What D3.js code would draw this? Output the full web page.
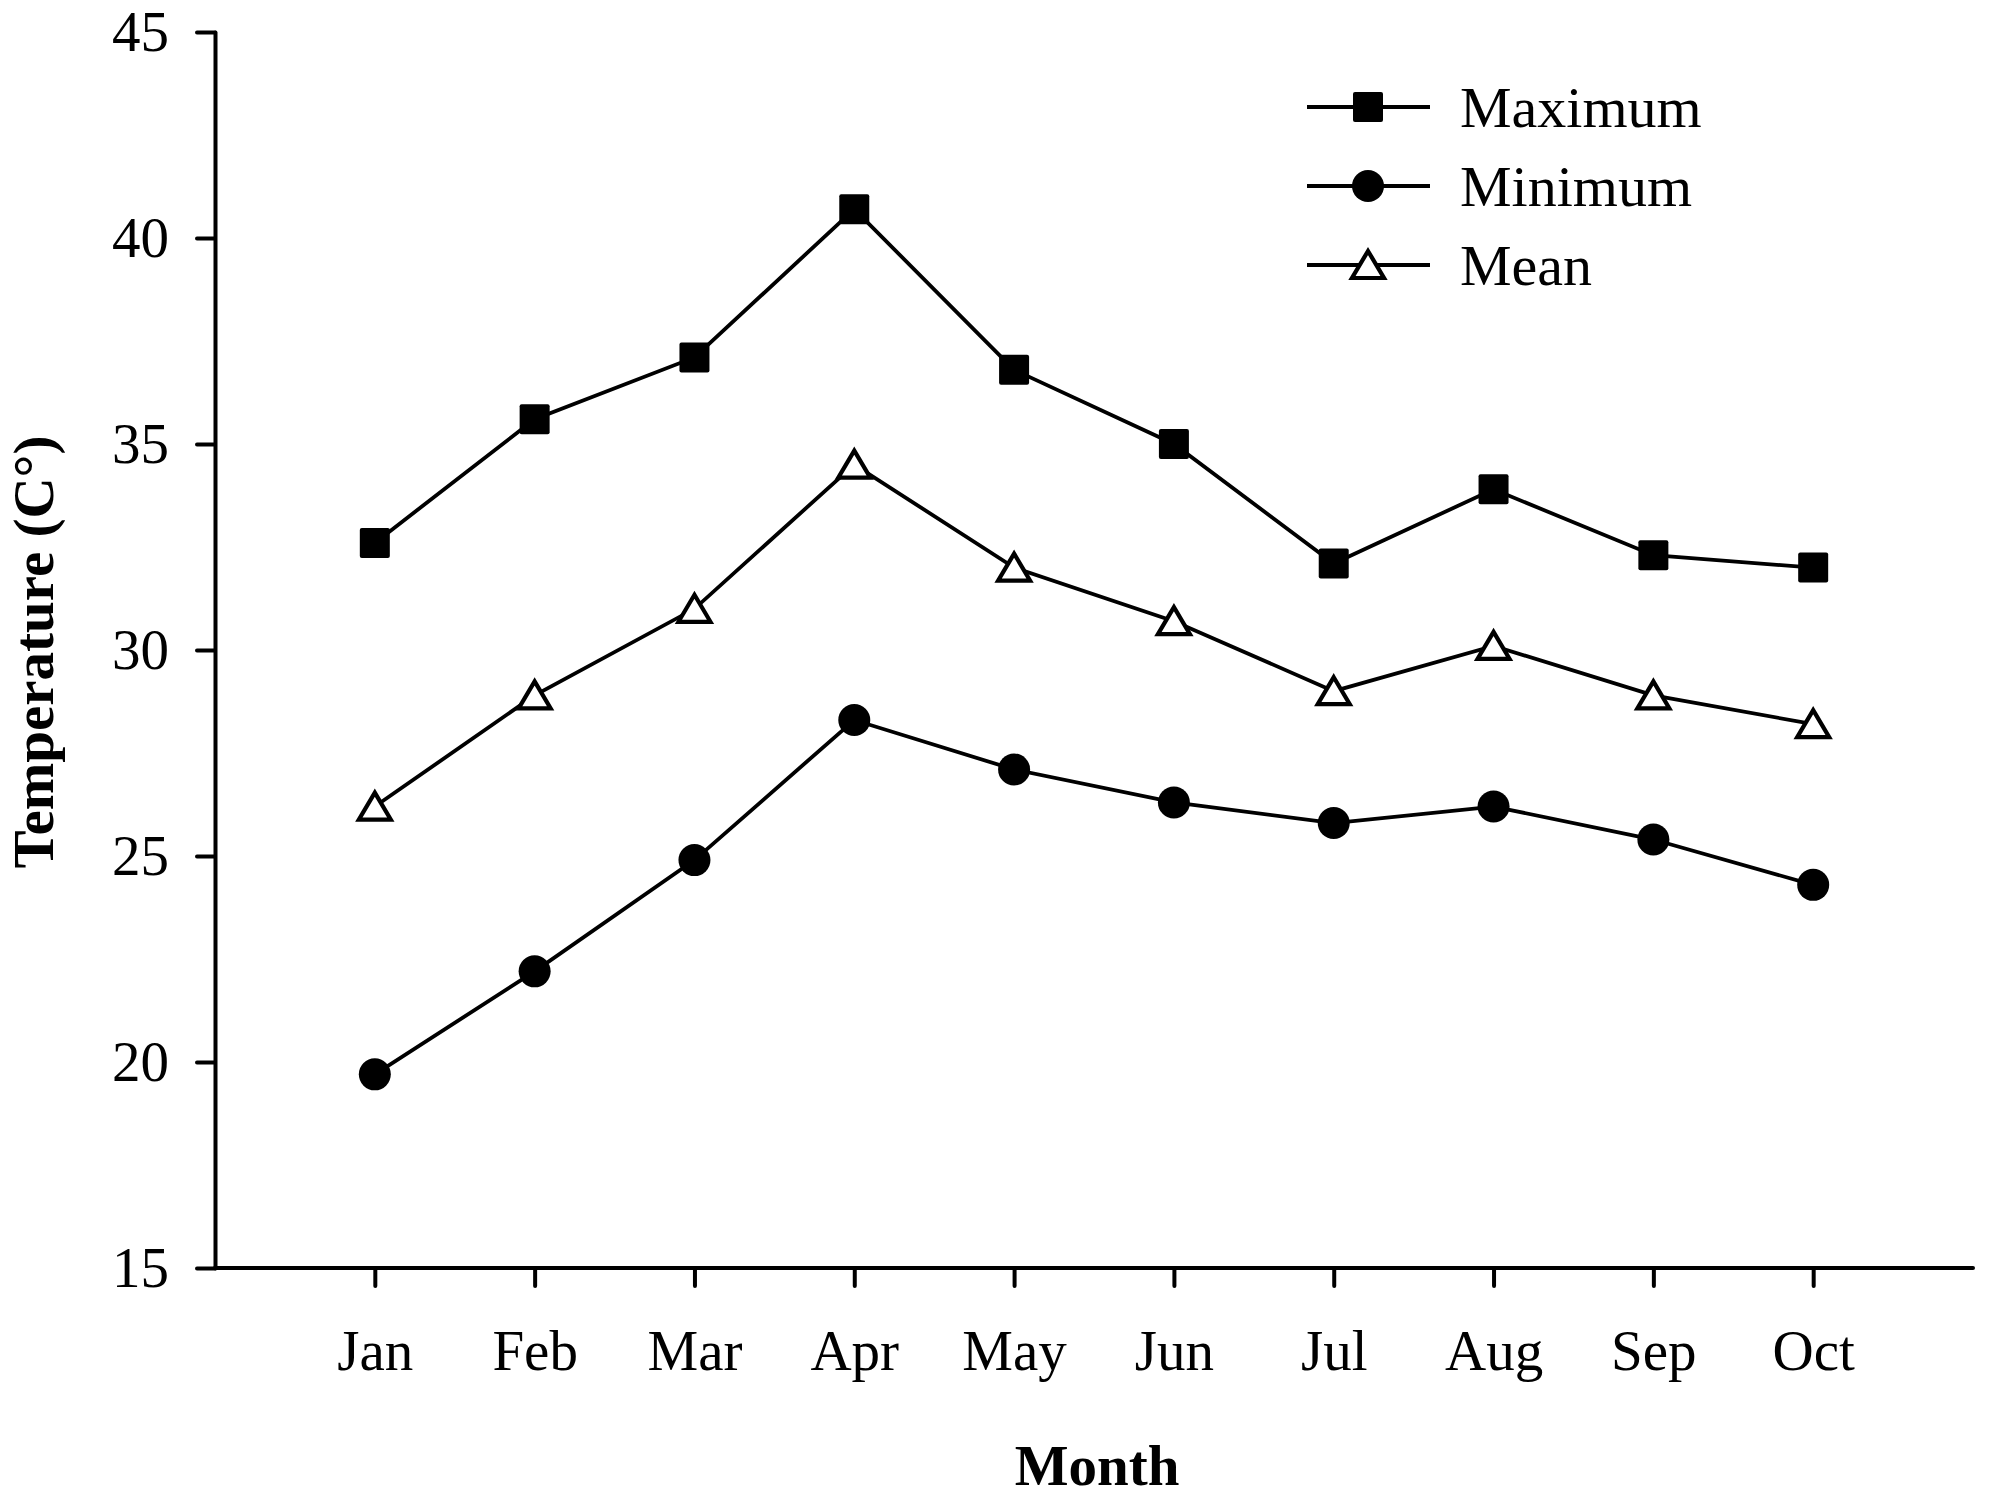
<!DOCTYPE html>
<html>
  <head>
    <script src="https://d3js.org/d3.v7.min.js"></script>
    <style>
      body { margin: 0; background: #fff; }
      text { font-family: "Liberation Serif", "Times New Roman", serif; fill: #000; }
    </style>
  </head>
  <body>
    <svg width="1994" height="1503"></svg>
  </body>
  <script>
    var months = ["Jan", "Feb", "Mar", "Apr", "May", "Jun", "Jul", "Aug", "Sep", "Oct"];
    var maximum = [32.6, 35.6, 37.1, 40.7, 36.8, 35.0, 32.1, 33.9, 32.3, 32.0];
    var minimum = [19.7, 22.2, 24.9, 28.3, 27.1, 26.3, 25.8, 26.2, 25.4, 24.3];
    var mean    = [26.2, 28.9, 31.0, 34.5, 32.0, 30.7, 29.0, 30.1, 28.9, 28.2];
    var yTicks  = [15, 20, 25, 30, 35, 40, 45];
    var seriesNames = ["Maximum", "Minimum", "Mean"];

    var svg = d3.select("svg");
    var plotLeft = 215, plotRight = 1973, plotTop = 32, plotBottom = 1268;

    var x = d3.scalePoint().domain(months).range([plotLeft, plotRight]).padding(1);
    var y = d3.scaleLinear().domain([15, 45]).range([plotBottom, plotTop]);

    // axes
    var yAxis = d3.axisLeft(y).tickValues(yTicks).tickSize(18).tickSizeOuter(0).tickPadding(28);
    var xAxis = d3.axisBottom(x).tickSize(18).tickSizeOuter(0).tickPadding(44);

    var gy = svg.append("g").attr("transform", "translate(" + plotLeft + ",0)").call(yAxis);
    var gx = svg.append("g").attr("transform", "translate(0," + plotBottom + ")").call(xAxis);

    [gx, gy].forEach(function(g) {
      g.select(".domain").attr("stroke", "#000").attr("stroke-width", 4).attr("stroke-linecap", "round");
      g.selectAll(".tick line").attr("stroke", "#000").attr("stroke-width", 4).attr("stroke-linecap", "round");
      g.selectAll(".tick text").attr("font-size", 57).attr("font-family", "Liberation Serif").attr("fill", "#000");
    });
    // x domain only runs from the y axis rightwards
    gx.select(".domain").attr("d", "M" + plotLeft + ",0H" + plotRight);

    svg.append("text")
      .attr("x", (plotLeft + plotRight) / 2 + 3)
      .attr("y", 1485)
      .attr("text-anchor", "middle")
      .attr("font-size", 57)
      .attr("font-weight", "bold")
      .text("Month");

    svg.append("text")
      .attr("transform", "translate(53," + ((plotTop + plotBottom) / 2 + 2) + ") rotate(-90)")
      .attr("text-anchor", "middle")
      .attr("font-size", 57)
      .attr("font-weight", "bold")
      .text("Temperature (C°)");

    // markers
    function square(g) {
      g.append("rect").attr("x", -15).attr("y", -15).attr("width", 30).attr("height", 30)
        .attr("rx", 2).attr("fill", "#000");
    }
    function circle(g) {
      g.append("circle").attr("r", 16).attr("fill", "#000");
    }
    function triangle(g) {
      g.append("path").attr("d", "M0,-14L16,13L-16,13Z")
        .attr("fill", "#fff").attr("stroke", "#000").attr("stroke-width", 4.2)
        .attr("stroke-linejoin", "miter");
    }
    var markers = [square, circle, triangle];
    var values = [maximum, minimum, mean];

    var line = d3.line().x(function(d, i) { return x(months[i]); }).y(function(d) { return y(d); });

    values.forEach(function(vals, k) {
      svg.append("path").datum(vals)
        .attr("d", line)
        .attr("fill", "none").attr("stroke", "#000").attr("stroke-width", 3.8);
      vals.forEach(function(v, i) {
        var g = svg.append("g").attr("transform", "translate(" + x(months[i]) + "," + y(v) + ")");
        markers[k](g);
      });
    });

    // legend
    var legend = svg.append("g").attr("transform", "translate(1307,107)");
    seriesNames.forEach(function(name, k) {
      var row = legend.append("g").attr("transform", "translate(0," + (k * 79) + ")");
      row.append("line").attr("x1", 0).attr("x2", 123).attr("y1", 0).attr("y2", 0)
        .attr("stroke", "#000").attr("stroke-width", 3.8);
      markers[k](row.append("g").attr("transform", "translate(61,0)"));
      row.append("text").attr("x", 153).attr("y", 20).attr("font-size", 58).text(name);
    });
  </script>
</html>
